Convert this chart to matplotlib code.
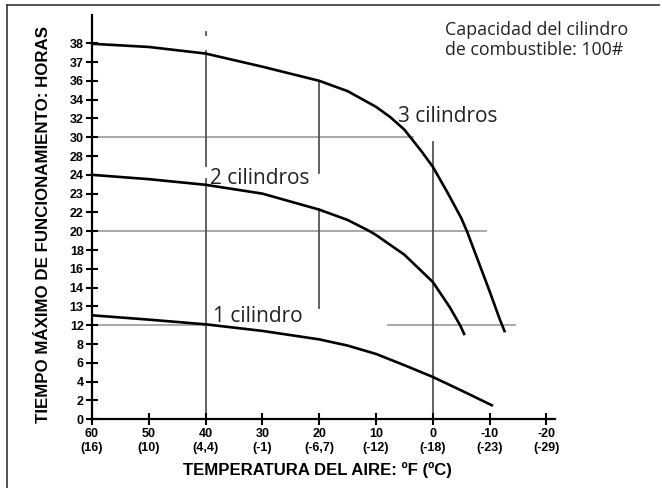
import numpy as np
import matplotlib
matplotlib.use("Agg")
import matplotlib.pyplot as plt
from matplotlib.lines import Line2D

# y axis ticks (the original chart spaces them evenly, not by value)
hour_ticks = [0, 2, 4, 6, 8, 12, 13, 14, 16, 18, 20, 22, 23, 24, 28, 30, 32, 34, 36, 37, 38]
temp_f = [60, 50, 40, 30, 20, 10, 0, -10, -20]
temp_c = ["16", "10", "4,4", "-1", "-6,7", "-12", "-18", "-23", "-29"]

# curves: temperature (F) -> hours
cyl3_t = [60, 50, 40, 30, 20, 15, 10, 7.5, 5, 2, 0, -2.5, -5, -6, -8, -10, -11.8, -12.7]
cyl3_h = [37.97, 37.8, 37.45, 36.75, 36.0, 34.9, 33.23, 32.14, 30.8, 28.5, 25.7, 23.1, 21.4,
          20.0, 16.8, 13.8, 12.3, 10.5]
cyl2_t = [60, 50, 40, 30, 20, 15, 11.1, 10, 5, 0, -3, -4.8, -5.6]
cyl2_h = [24.0, 23.77, 23.47, 23.0, 22.15, 21.2, 20.0, 19.6, 17.5, 14.6, 12.95, 12.0, 9.9]
cyl1_t = [60, 50, 40, 30, 20, 15, 10, 5, 0, -5, -10.6]
cyl1_h = [12.53, 12.3, 12.05, 10.8, 9.0, 7.84, 6.95, 5.75, 4.5, 3.07, 1.43]

# guide lines
h_guides = [(60, 3.5, 30), (60, -9.3, 20), (60, 40, 12), (7.9, -14.4, 12)]
v_guides = [(40, 38.45, 38.6), (40, 37.6, 25.9), (40, 23.8, 0),
            (20, 36.0, 24.4), (20, 22.2, 12.93), (0, 29.5, 0)]

ext_h = hour_ticks + [40]
ext_i = list(range(len(hour_ticks))) + [len(hour_ticks) + 1]


def fwd(h):
    return np.interp(h, ext_h, ext_i)


def inv(i):
    return np.interp(i, ext_i, ext_h)


W, H = 662, 488
fig = plt.figure(figsize=(W / 100, H / 100), dpi=100)
ax = fig.add_axes([92 / W, 1 - 419.3 / H, 463 / W, (419.3 - 15) / H])
ax.set_yscale("function", functions=(fwd, inv))
ax.set_xlim(60, -21.5)
ax.set_ylim(0, 39.5)

for x0, x1, y in h_guides:
    ax.plot([x0, x1], [y, y], color="#999999", lw=1.2, zorder=1)
for x, y0, y1 in v_guides:
    ax.plot([x, x], [y0, y1], color="#555555", lw=1.3, zorder=1)

for t, h in [(cyl3_t, cyl3_h), (cyl2_t, cyl2_h), (cyl1_t, cyl1_h)]:
    ax.plot(t, h, color="black", lw=1.9, zorder=3, solid_capstyle="butt",
            solid_joinstyle="round")

for s in ["top", "right"]:
    ax.spines[s].set_visible(False)
for s in ["left", "bottom"]:
    ax.spines[s].set_linewidth(1.6)

ax.set_yticks(hour_ticks)
ax.set_yticklabels([str(v) for v in hour_ticks], fontsize=9, fontweight="bold",
                   family="Liberation Sans")
ax.set_xticks(temp_f)
ax.set_xticklabels([f"{f}\n({c})" for f, c in zip(temp_f, temp_c)], fontsize=9,
                   fontweight="bold", family="Liberation Sans", linespacing=1.25)
ax.tick_params(axis="both", direction="inout", length=8, width=1.5, pad=2)

fig.text(44 / W, 1 - 224 / H, "TIEMPO MÁXIMO DE FUNCIONAMIENTO: HORAS", rotation=90,
         ha="center", va="center", fontsize=12.2, fontweight="bold", family="Liberation Sans")
fig.text(317 / W, 1 - 470 / H, "TEMPERATURA DEL AIRE: ºF (ºC)", ha="center", va="center",
         fontsize=12.1, fontweight="bold", family="Liberation Sans")

lab = dict(fontsize=15, family="Open Sans", color="#222222", va="baseline", ha="left")
ax.text(6.2, 31.6, "3 cilindros", **lab)
ax.text(39.2, 23.53, "2 cilindros", **lab)
ax.text(38.7, 12.15, "1 cilindro", **lab)

cap = dict(fontsize=12.8, family="Open Sans", color="#222222", va="baseline", ha="left")
fig.text(445 / W, 1 - 35 / H, "Capacidad del cilindro", **cap)
fig.text(445 / W, 1 - 55 / H, "de combustible: 100#", **cap)

# outer frame (left and top edges only)
fig.add_artist(Line2D([7 / W, 7 / W], [0, 1 - 5 / H], transform=fig.transFigure,
                      color="#333333", lw=1.2))
fig.add_artist(Line2D([7 / W, 659 / W], [1 - 5 / H, 1 - 5 / H], transform=fig.transFigure,
                      color="#333333", lw=1.2))

fig.savefig("out.png", dpi=100)
